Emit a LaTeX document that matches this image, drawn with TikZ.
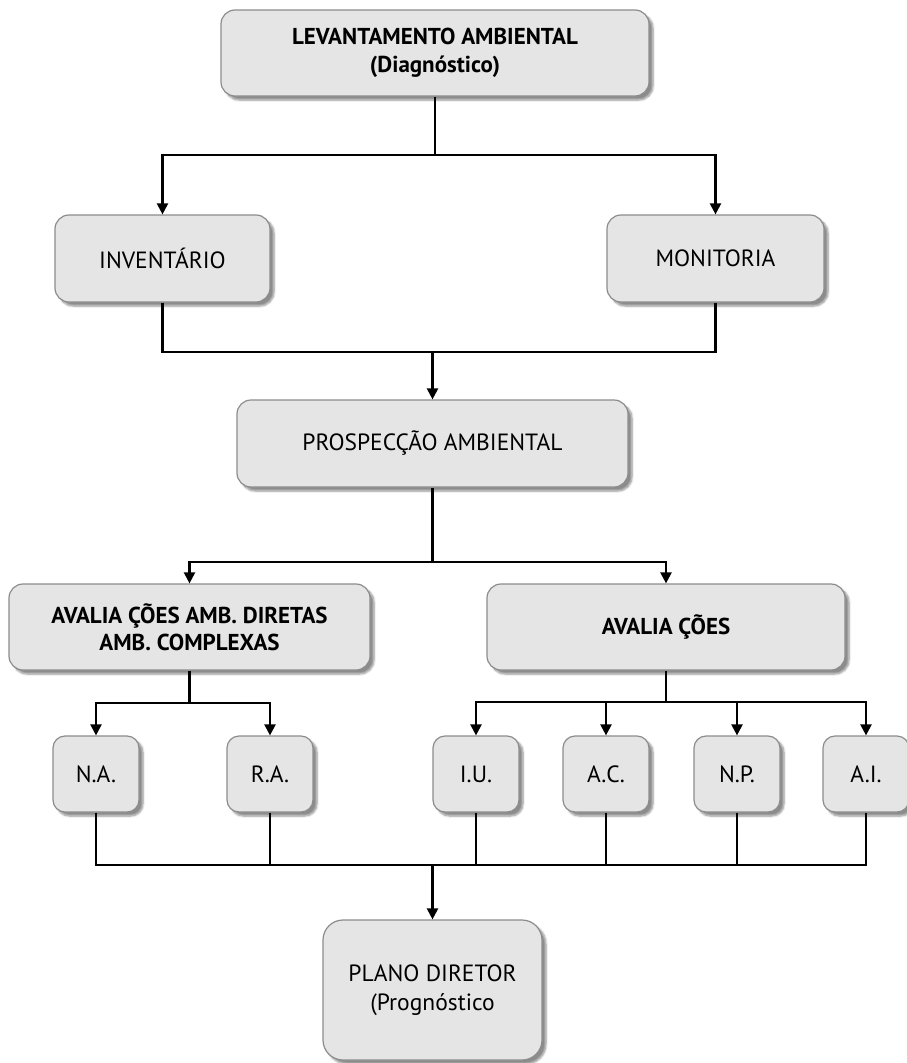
\documentclass[tikz,border=0pt]{standalone}
\usepackage{fontspec}
\setmainfont{PT Sans}
\usetikzlibrary{arrows.meta,shadows.blur,calc}
\begin{document}
\begin{tikzpicture}[x=1pt,y=-1pt,
  box/.style={draw=black!45,line width=1.2pt,fill=black!10,rounded corners=14pt,
    align=center,inner sep=0pt,font=\fontsize{23.5}{28}\selectfont,
    blur shadow={shadow xshift=4pt,shadow yshift=-4pt,shadow blur steps=6,shadow opacity=45}},
  bigbox/.style={box,minimum height=86pt},
  smallbox/.style={box,rounded corners=12pt,minimum width=86pt,minimum height=76pt},
  conn/.style={draw=black,line width=2.2pt},
  arr/.style={conn,-{Triangle[length=11pt,width=11pt]}}]
\useasboundingbox (0,0) rectangle (906,1063);
% nodes
\node[bigbox,minimum width=428pt,font=\fontsize{23}{28}\selectfont\bfseries] (lev) at (435,53) {LEVANTAMENTO AMBIENTAL\\(Diagnóstico)};
\node[bigbox,minimum width=215pt,minimum height=87pt] (inv) at (162.5,258.5) {INVENTÁRIO};
\node[bigbox,minimum width=217pt,minimum height=87pt] (mon) at (715.5,258.5) {MONITORIA};
\node[bigbox,minimum width=391pt,minimum height=87pt] (pros) at (432.5,443.5) {PROSPECÇÃO AMBIENTAL};
\node[bigbox,minimum width=361pt,font=\fontsize{23}{27}\selectfont\bfseries] (ava1) at (189.5,627) {AVALIA ÇÕES AMB. DIRETAS\\AMB. COMPLEXAS};
\node[bigbox,minimum width=358pt,font=\fontsize{23}{27}\selectfont\bfseries] (ava2) at (666,627) {AVALIA ÇÕES};
\node[smallbox] (na) at (96,774) {N.A.};
\node[smallbox] (ra) at (270,774) {R.A.};
\node[smallbox] (iu) at (476,774) {I.U.};
\node[smallbox] (ac) at (606,774) {A.C.};
\node[smallbox] (np) at (737,774) {N.P.};
\node[smallbox] (ai) at (866,774) {A.I.};
\node[box,rounded corners=20pt,minimum width=219pt,minimum height=140pt,font=\fontsize{23.5}{29}\selectfont] (plano) at (432.5,990) {PLANO DIRETOR\\(Prognóstico};
% junction coordinates
\coordinate (j1) at (lev.south |- 0,155);
\coordinate (j2) at (pros.north |- 0,352);
\coordinate (j3) at (pros.south |- 0,562);
\coordinate (j4) at (ava1.south |- 0,703);
\coordinate (j5) at (ava2.south |- 0,702);
\coordinate (j6) at (plano.north |- 0,865);
% connectors
\draw[conn] (lev.south) -- (j1);
\draw[arr] (j1) -| (inv.north);
\draw[arr] (j1) -| (mon.north);
\draw[conn] (inv.south) |- (j2);
\draw[conn] (mon.south) |- (j2);
\draw[arr] (j2) -- (pros.north);
\draw[conn] (pros.south) -- (j3);
\draw[arr] (j3) -| (ava1.north);
\draw[arr] (j3) -| (ava2.north);
\draw[conn] (ava1.south) -- (j4);
\draw[arr] (j4) -| (na.north);
\draw[arr] (j4) -| (ra.north);
\draw[conn] (ava2.south) -- (j5);
\draw[arr] (j5) -| (iu.north);
\draw[arr] (j5) -| (ac.north);
\draw[arr] (j5) -| (np.north);
\draw[arr] (j5) -| (ai.north);
\draw[conn] (na.south) |- (j6);
\draw[conn] (ai.south) |- (j6);
\draw[conn] (ra.south) -- (ra.south |- j6);
\draw[conn] (iu.south) -- (iu.south |- j6);
\draw[conn] (ac.south) -- (ac.south |- j6);
\draw[conn] (np.south) -- (np.south |- j6);
\draw[arr] (j6) -- (plano.north);
\end{tikzpicture}
\end{document}
